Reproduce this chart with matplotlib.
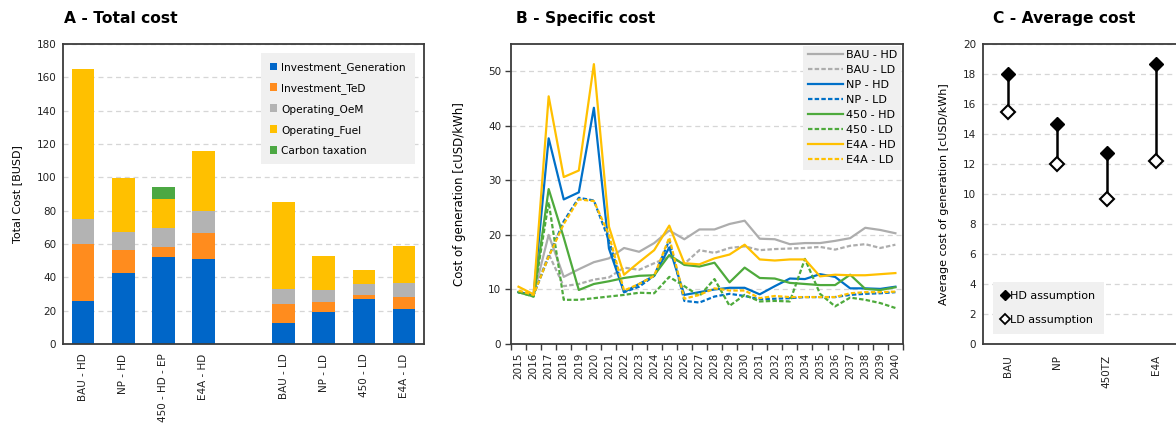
import matplotlib
matplotlib.use('Agg')
import matplotlib.pyplot as plt
from matplotlib.lines import Line2D
from matplotlib.ticker import MultipleLocator, FixedLocator

plt.rcParams['font.family'] = 'DejaVu Sans'

# --- A: total cost per scenario [BUSD]
scenarios = ['BAU - HD', 'NP - HD', '450 - HD - EP', 'E4A - HD',
             'BAU - LD', 'NP - LD', '450 - LD', 'E4A - LD']
inv_generation = [25.8, 42.5, 51.9, 50.7, 12.4, 19.2, 26.8, 21.2]
inv_ted = [33.9, 14.0, 6.0, 15.6, 11.4, 6.0, 2.6, 7.2]
op_oem = [15.2, 10.8, 11.6, 13.6, 9.2, 7.4, 6.6, 8.0]
op_fuel = [89.9, 32.2, 17.6, 36.0, 52.1, 19.9, 8.1, 22.5]
carbon_tax = [0.0, 0.0, 7.0, 0.0, 0.0, 0.0, 0.0, 0.0]

# --- B: specific cost of generation per year [cUSD/kWh]
years = list(range(2015, 2041))
bau_hd = [9.5, 9.0, 20.0, 12.3, 13.7, 15.0, 15.7, 17.6, 16.9, 18.5, 20.8, 19.2, 21.0,
          21.0, 22.0, 22.6, 19.3, 19.2, 18.3, 18.5, 18.5, 18.9, 19.4, 21.3, 20.9, 20.3]
bau_ld = [9.5, 9.0, 16.5, 10.6, 11.0, 11.8, 12.2, 14.0, 13.6, 14.8, 16.0, 14.7, 17.2,
          16.7, 17.6, 17.9, 17.2, 17.4, 17.5, 17.6, 17.8, 17.3, 18.0, 18.3, 17.6, 18.2]
np_hd = [9.5, 9.0, 37.7, 26.5, 27.8, 43.3, 17.5, 9.5, 11.0, 12.5, 17.7, 9.0, 9.5,
         10.0, 10.3, 10.3, 9.1, 10.6, 12.0, 11.9, 12.8, 12.3, 10.2, 10.2, 10.1, 10.5]
np_ld = [9.5, 9.0, 16.0, 22.5, 26.8, 26.3, 19.0, 9.5, 10.5, 12.5, 19.0, 7.9, 7.6,
         8.7, 9.2, 8.8, 8.2, 8.3, 8.4, 8.6, 8.6, 8.6, 9.0, 9.2, 9.3, 9.5]
s450_hd = [9.5, 8.7, 28.4, 19.5, 9.9, 11.0, 11.5, 12.1, 12.5, 12.6, 16.3, 14.5, 14.2,
           14.9, 11.3, 14.0, 12.1, 12.0, 11.2, 11.0, 10.8, 10.8, 12.7, 10.1, 9.9, 10.4]
s450_ld = [9.5, 8.7, 26.0, 8.1, 8.1, 8.4, 8.7, 9.0, 9.4, 9.3, 12.3, 10.6, 8.8,
           11.9, 7.0, 9.0, 7.8, 7.9, 7.8, 15.6, 9.2, 6.9, 8.5, 8.1, 7.5, 6.6]
e4a_hd = [10.5, 9.1, 45.4, 30.6, 31.8, 51.3, 21.5, 12.7, 15.0, 17.2, 21.7, 14.8, 14.6,
          15.7, 16.4, 18.2, 15.5, 15.3, 15.5, 15.5, 12.4, 12.7, 12.6, 12.6, 12.8, 13.0]
e4a_ld = [9.8, 9.0, 16.0, 22.0, 26.5, 26.2, 20.0, 9.8, 11.0, 12.5, 19.5, 8.3, 9.0,
          10.2, 9.8, 9.8, 8.4, 8.8, 8.6, 8.6, 8.6, 8.6, 9.3, 9.5, 9.5, 9.6]

# --- C: average cost of generation [cUSD/kWh]
scenarios_avg = ['BAU', 'NP', '450TZ', 'E4A']
avg_hd = [18.0, 14.67, 12.7, 18.64]
avg_ld = [15.47, 11.99, 9.64, 12.23]

SPINE = '#3c3c3c'
GRID = '#d6d6d6'
LEG_BG = '#f0f0f0'


def style_axes(ax):
    for s in ax.spines.values():
        s.set_color(SPINE)
        s.set_linewidth(1.3)
    ax.grid(axis='y', color=GRID, linestyle=(0, (4, 3)), linewidth=0.9)
    ax.set_axisbelow(True)
    ax.tick_params(axis='both', labelsize=7.5, colors='#222222')


def grey_legend(leg):
    frame = leg.get_frame()
    frame.set_facecolor(LEG_BG)
    frame.set_edgecolor('none')
    frame.set_alpha(1)


fig = plt.figure(figsize=(11.76, 4.25), dpi=100)

# ---------------- A - Total cost
axA = fig.add_axes([0.0536, 0.1906, 0.307, 0.706])
style_axes(axA)
pos = [i + (1 if i >= 4 else 0) for i in range(len(scenarios))]
stack = [
    (inv_generation, 'Investment_Generation', '#0066C8'),
    (inv_ted, 'Investment_TeD', '#FF8C1E'),
    (op_oem, 'Operating_OeM', '#B3B3B3'),
    (op_fuel, 'Operating_Fuel', '#FFC000'),
    (carbon_tax, 'Carbon taxation', '#4CA843'),
]
bottom = [0.0] * len(scenarios)
for vals, lab, col in stack:
    axA.bar(pos, vals, bottom=bottom, width=0.565, color=col, label=lab)
    bottom = [b + v for b, v in zip(bottom, vals)]
axA.set_xlim(-0.5, 8.5)
axA.set_ylim(0, 180)
axA.yaxis.set_major_locator(MultipleLocator(20))
axA.set_xticks(pos)
axA.set_xticklabels(scenarios, rotation=90)
axA.tick_params(axis='x', length=0, pad=7)
axA.tick_params(axis='y', length=0, pad=5)
axA.set_ylabel('Total Cost [BUSD]', fontsize=8, labelpad=10)
legA = axA.legend(loc='upper right', fontsize=7.6, frameon=True, fancybox=False,
                  handlelength=0.7, handleheight=0.7, handletextpad=0.4,
                  labelspacing=0.95, borderaxespad=0.9, borderpad=0.8)
grey_legend(legA)
fig.text(0.0545, 0.945, 'A - Total cost', fontsize=11.2, fontweight='bold', va='baseline')

# ---------------- B - Specific cost
axB = fig.add_axes([0.4345, 0.1906, 0.3333, 0.706])
style_axes(axB)
x = list(range(len(years)))
series = [
    (bau_hd, 'BAU - HD', '#ADADAD', '-'),
    (bau_ld, 'BAU - LD', '#ADADAD', (0, (2, 1))),
    (np_hd, 'NP - HD', '#0070C8', '-'),
    (np_ld, 'NP - LD', '#0070C8', (0, (2, 1))),
    (s450_hd, '450 - HD', '#4EAA3C', '-'),
    (s450_ld, '450 - LD', '#4EAA3C', (0, (2, 1))),
    (e4a_hd, 'E4A - HD', '#FFC000', '-'),
    (e4a_ld, 'E4A - LD', '#FFC000', (0, (2, 1))),
]
for vals, lab, col, ls in series:
    axB.plot(x, vals, color=col, linestyle=ls, linewidth=1.6, label=lab)
axB.set_xlim(-0.5, len(years) - 0.5)
axB.set_ylim(0, 55)
axB.yaxis.set_major_locator(MultipleLocator(10))
axB.set_xticks(x)
axB.set_xticklabels([str(y) for y in years], rotation=90)
axB.xaxis.set_minor_locator(FixedLocator([i - 0.5 for i in range(len(years) + 1)]))
axB.tick_params(axis='x', which='major', length=0, pad=6, labelsize=7.5)
axB.tick_params(axis='x', which='minor', length=4, width=1, color=SPINE)
axB.tick_params(axis='y', length=4, width=1, color=SPINE, pad=3)
axB.set_ylabel('Cost of generation [cUSD/kWh]', fontsize=8.5, labelpad=16)
legB = axB.legend(loc='upper right', fontsize=8, frameon=True, fancybox=False,
                  handlelength=3.2, handletextpad=0.2, labelspacing=0.45,
                  borderaxespad=0.15, borderpad=0.4)
grey_legend(legB)
fig.text(0.4385, 0.945, 'B - Specific cost', fontsize=11.2, fontweight='bold', va='baseline')

# ---------------- C - Average cost (axes runs past the right edge)
axC = fig.add_axes([0.836, 0.1906, 0.1684, 0.706])
style_axes(axC)
xc = list(range(len(scenarios_avg)))
axC.vlines(xc, avg_ld, avg_hd, color='black', linewidth=1.8, zorder=2)
axC.plot(xc, avg_hd, linestyle='none', marker='D', markersize=6.8,
         color='black', zorder=3)
axC.plot(xc, avg_ld, linestyle='none', marker='D', markersize=6.8,
         markerfacecolor='white', markeredgecolor='black', markeredgewidth=1.5, zorder=3)
axC.set_xlim(-0.5, len(scenarios_avg) - 0.5)
axC.set_ylim(0, 20)
axC.yaxis.set_major_locator(MultipleLocator(2))
axC.set_xticks(xc)
axC.set_xticklabels(scenarios_avg, rotation=90)
axC.tick_params(axis='x', length=0, pad=8)
axC.tick_params(axis='y', length=0, pad=5)
axC.set_ylabel('Average cost of generation [cUSD/kWh]', fontsize=8, labelpad=10)
handles = [
    Line2D([], [], linestyle='none', marker='D', markersize=5.5, color='black'),
    Line2D([], [], linestyle='none', marker='D', markersize=5.5,
           markerfacecolor='white', markeredgecolor='black', markeredgewidth=1.3),
]
legC = axC.legend(handles, ['HD assumption', 'LD assumption'], loc='lower left',
                  fontsize=8, frameon=True, fancybox=False, handlelength=0.6,
                  handletextpad=0.15, labelspacing=1.3, borderaxespad=0.9,
                  borderpad=0.8)
grey_legend(legC)
fig.text(0.844, 0.945, 'C - Average cost', fontsize=11.2, fontweight='bold', va='baseline')

fig.savefig('out.png', dpi=100)
